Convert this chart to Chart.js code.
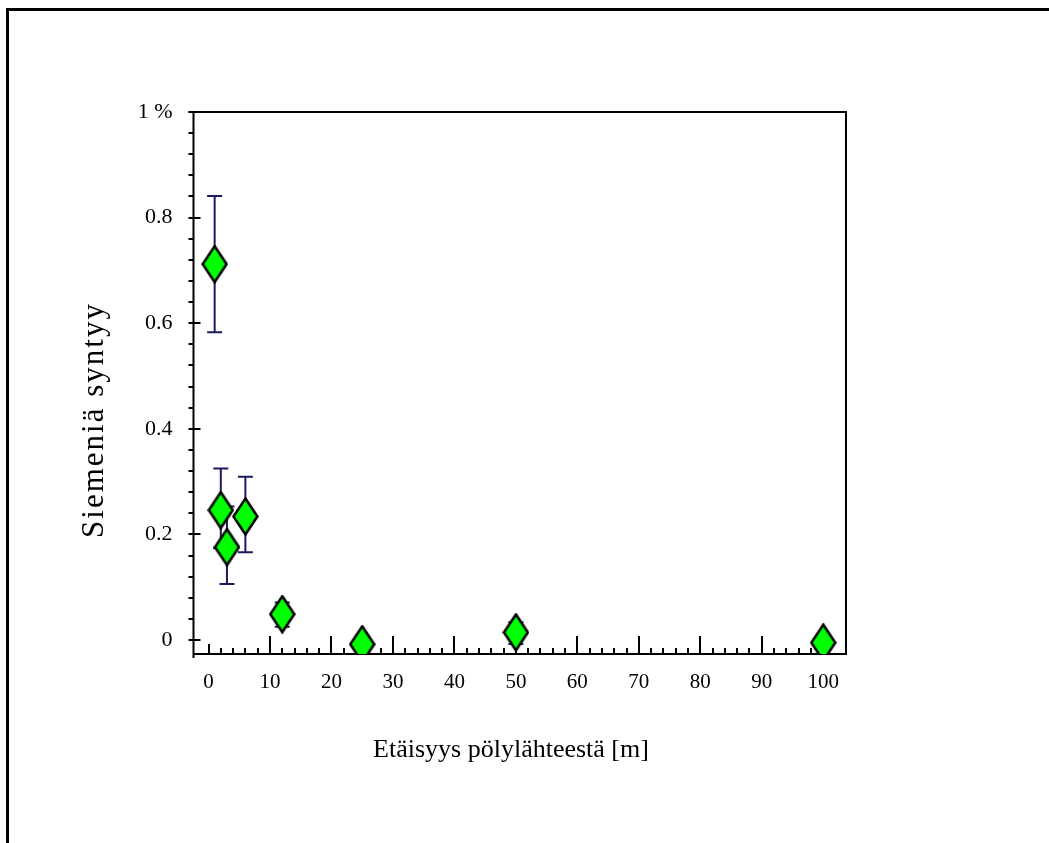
<!DOCTYPE html>
<html>
<head>
<meta charset="utf-8">
<script src="https://cdn.jsdelivr.net/npm/chart.js@4"></script>
<style>
  html, body { margin: 0; padding: 0; background: #fff; overflow: hidden; }
  #wrap { position: relative; width: 1049px; height: 843px; }
  #frame { position: absolute; left: 6px; top: 8px; right: -10px; bottom: -10px;
           border-left: 3px solid #000; border-top: 3px solid #000; }
  canvas { position: absolute; left: 0; top: 0; }
</style>
</head>
<body>
<div id="wrap">
  <div id="frame"></div>
  <canvas id="c" width="1049" height="843"></canvas>
</div>
<script>
// ---- data ----
const distances = [1, 2, 3, 6, 12, 25, 50, 100];
const seedValues = [0.712, 0.246, 0.176, 0.234, 0.049, -0.008, 0.0145, -0.005];
const errLow  = [0.583, 0.174, 0.106, 0.166, 0.025, -0.008, -0.0076, -0.005];
const errHigh = [0.841, 0.325, 0.253, 0.309, 0.071, -0.008, 0.0335, -0.005];

const xTickValues = [0, 10, 20, 30, 40, 50, 60, 70, 80, 90, 100];
const yTickValues = [0, 0.2, 0.4, 0.6, 0.8, 1];
const yTickLabels = ['0', '0.2', '0.4', '0.6', '0.8', '1 %'];
const xTitle = 'Etäisyys pölylähteestä [m]';
const yTitle = 'Siemeniä syntyy';

// ---- styles ----
const FONT = "'Liberation Serif', 'Times New Roman', serif";
const ERR_COLOR = '#1a1a5c';

function makeDiamond() {
  const w = 27, h = 39;
  const cv = document.createElement('canvas');
  cv.width = w; cv.height = h;
  const g = cv.getContext('2d');
  g.beginPath();
  g.moveTo(w / 2, 1.5);
  g.lineTo(w - 1.5, h / 2);
  g.lineTo(w / 2, h - 1.5);
  g.lineTo(1.5, h / 2);
  g.closePath();
  g.fillStyle = '#00ff00';
  g.fill();
  g.lineWidth = 2.5;
  g.strokeStyle = '#000';
  g.lineJoin = 'miter';
  g.stroke();
  return cv;
}
const diamond = makeDiamond();

const framePlugin = {
  id: 'framePlugin',
  beforeDatasetsDraw(chart) {
    const ctx = chart.ctx;
    const xs = chart.scales.x, ys = chart.scales.y;
    const L = xs.left, R = xs.right, T = ys.top, B = ys.bottom;
    ctx.save();
    ctx.strokeStyle = '#000';
    ctx.lineWidth = 2;
    ctx.lineCap = 'butt';
    // box
    ctx.beginPath();
    ctx.moveTo(L - 5, T); ctx.lineTo(R, T);
    ctx.moveTo(R, T - 1); ctx.lineTo(R, B + 1);
    ctx.moveTo(L - 1, B); ctx.lineTo(R, B);
    ctx.moveTo(L, T); ctx.lineTo(L, B + 4);
    ctx.stroke();
    // y ticks
    ctx.beginPath();
    for (let k = 0; k <= 25; k++) {
      const v = k * 0.04;
      const py = Math.round(ys.getPixelForValue(v));
      if (k % 5 === 0) { ctx.moveTo(L - 5, py); ctx.lineTo(L + 7, py); }
      else { ctx.moveTo(L - 5, py); ctx.lineTo(L, py); }
    }
    // x ticks
    for (let v = 0; v <= 100; v += 2) {
      const px = Math.round(xs.getPixelForValue(v));
      let len = 6;
      if (v % 10 === 0) len = (v === 0 || v === 100) ? 10 : 18;
      ctx.moveTo(px, B); ctx.lineTo(px, B - len);
    }
    ctx.stroke();
    // error bars
    ctx.strokeStyle = ERR_COLOR;
    ctx.lineWidth = 2;
    ctx.beginPath();
    for (let i = 0; i < distances.length; i++) {
      const px = xs.getPixelForValue(distances[i]);
      const pl = ys.getPixelForValue(errLow[i]);
      const ph = ys.getPixelForValue(errHigh[i]);
      if (Math.abs(pl - ph) < 1) continue;
      ctx.moveTo(px, pl); ctx.lineTo(px, ph);
      ctx.moveTo(px - 7.5, pl); ctx.lineTo(px + 7.5, pl);
      ctx.moveTo(px - 7.5, ph); ctx.lineTo(px + 7.5, ph);
    }
    ctx.stroke();
    ctx.restore();
  },
  afterDraw(chart) {
    const ctx = chart.ctx;
    ctx.save();
    ctx.fillStyle = '#000';
    ctx.font = '26px ' + FONT;
    ctx.textAlign = 'center';
    ctx.textBaseline = 'middle';
    ctx.fillText(xTitle, 511, 750);
    ctx.translate(95, 420);
    ctx.rotate(-Math.PI / 2);
    ctx.font = '31px ' + FONT;
    if ('letterSpacing' in ctx) ctx.letterSpacing = '2px';
    ctx.fillText(yTitle, 0, 0);
    ctx.restore();
  }
};

new Chart(document.getElementById('c'), {
  type: 'scatter',
  data: {
    datasets: [{
      data: distances.map((d, i) => ({ x: d, y: seedValues[i] })),
      pointStyle: diamond,
      pointRadius: 14,
      pointHoverRadius: 14,
      showLine: false
    }]
  },
  options: {
    responsive: false,
    animation: false,
    devicePixelRatio: 1,
    layout: { padding: { top: 112, right: 203, left: 0, bottom: 0 } },
    plugins: { legend: { display: false }, tooltip: { enabled: false } },
    scales: {
      x: {
        type: 'linear',
        min: -2.44, max: 103.7,
        afterFit(s) { s.height = 189; },
        afterBuildTicks(s) { s.ticks = xTickValues.map(v => ({ value: v })); },
        grid: { display: false, drawTicks: false },
        border: { display: false },
        ticks: { color: '#000', padding: 16, maxRotation: 0, autoSkip: false,
                  font: { family: FONT, size: 21 } }
      },
      y: {
        type: 'linear',
        min: -0.0265, max: 1.0,
        afterFit(s) { s.width = 193.5; },
        afterBuildTicks(s) { s.ticks = yTickValues.map(v => ({ value: v })); },
        grid: { display: false, drawTicks: false },
        border: { display: false },
        ticks: { color: '#000', padding: 21, autoSkip: false,
                  font: { family: FONT, size: 22 },
                  callback(v) { const i = yTickValues.findIndex(t => Math.abs(t - v) < 1e-9); return i >= 0 ? yTickLabels[i] : ''; } }
      }
    }
  },
  plugins: [framePlugin]
});
</script>
</body>
</html>
